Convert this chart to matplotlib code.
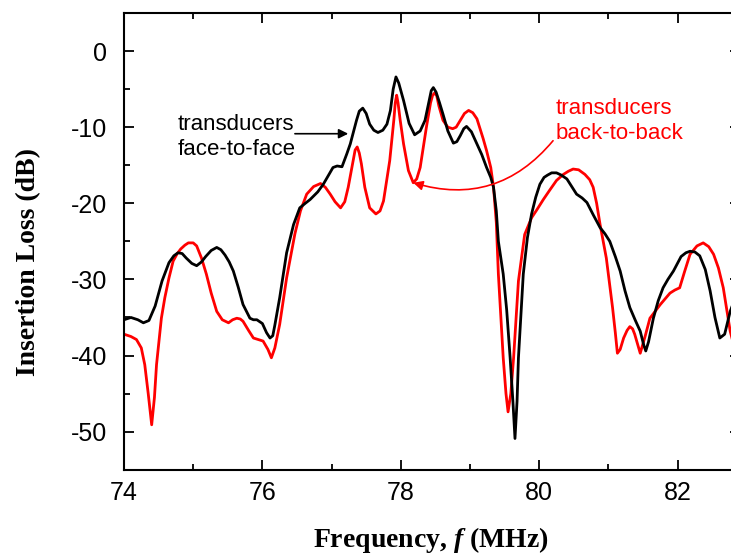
import matplotlib
matplotlib.use('Agg')
import matplotlib.pyplot as plt
from matplotlib.ticker import MultipleLocator

plt.rcParams['font.family'] = ['Liberation Sans', 'DejaVu Sans']
plt.rcParams['axes.unicode_minus'] = False
plt.rcParams['mathtext.fontset'] = 'custom'
plt.rcParams['mathtext.it'] = 'Liberation Serif:italic:bold'
plt.rcParams['mathtext.rm'] = 'Liberation Serif:bold'

# face-to-face measurement (black)
f2f_freq = [74.00, 74.10, 74.20, 74.28, 74.36, 74.45, 74.55, 74.65, 74.72, 74.78,
            74.84, 74.90, 74.98, 75.05, 75.12, 75.18, 75.26, 75.34, 75.40, 75.46,
            75.52, 75.58, 75.65, 75.72, 75.82, 75.87, 75.92, 76.00, 76.06, 76.11,
            76.15, 76.18, 76.25, 76.35, 76.45, 76.54, 76.62, 76.69, 76.80, 76.88,
            76.95, 77.02, 77.08, 77.15, 77.22, 77.27, 77.32, 77.36, 77.40, 77.45,
            77.50, 77.55, 77.61, 77.67, 77.74, 77.80, 77.85, 77.89, 77.93, 77.97,
            78.04, 78.12, 78.20, 78.28, 78.35, 78.41, 78.44, 78.47, 78.51, 78.56,
            78.61, 78.68, 78.76, 78.81, 78.86, 78.91, 78.95, 79.02, 79.10, 79.17,
            79.24, 79.30, 79.34, 79.38, 79.41, 79.48, 79.53, 79.58, 79.62, 79.65,
            79.68, 79.70, 79.74, 79.77, 79.83, 79.89, 79.95, 80.01, 80.07, 80.12,
            80.18, 80.25, 80.32, 80.40, 80.47, 80.54, 80.62, 80.69, 80.78, 80.88,
            80.95, 81.02, 81.10, 81.17, 81.24, 81.31, 81.39, 81.46, 81.51, 81.54,
            81.58, 81.65, 81.72, 81.79, 81.86, 81.94, 82.05, 82.12, 82.18, 82.25,
            82.32, 82.40, 82.47, 82.54, 82.61, 82.68, 82.76, 82.85]
f2f_loss = [-35.3, -35.0, -35.3, -35.7, -35.4, -33.5, -30.2, -27.8, -26.9, -26.5,
            -26.6, -27.2, -27.9, -28.2, -27.7, -27.0, -26.2, -25.8, -26.1, -26.8,
            -27.7, -28.9, -31.0, -33.3, -35.1, -35.3, -35.3, -35.8, -37.0, -37.7,
            -37.4, -36.0, -32.4, -26.5, -22.8, -20.6, -20.0, -19.5, -18.5, -17.5,
            -16.4, -15.3, -15.1, -15.2, -13.5, -12.2, -10.5, -9.1, -7.9, -7.5,
            -8.2, -9.6, -10.4, -10.7, -10.4, -9.6, -7.8, -5.0, -3.4, -4.2,
            -6.5, -9.5, -11.0, -10.5, -9.1, -6.5, -5.2, -4.8, -5.4, -6.8,
            -8.3, -10.5, -12.1, -11.9, -11.1, -10.2, -9.9, -10.6, -12.2, -13.6,
            -15.3, -16.6, -17.9, -21.0, -25.0, -29.3, -34.0, -40.3, -46.0, -50.9,
            -46.0, -40.3, -34.0, -29.3, -24.5, -21.4, -19.2, -17.5, -16.6, -16.3,
            -16.0, -16.0, -16.3, -16.8, -17.8, -18.8, -19.3, -19.9, -21.5, -23.2,
            -24.0, -25.0, -27.0, -28.9, -31.5, -33.7, -35.4, -36.8, -38.6, -39.4,
            -38.2, -35.1, -32.8, -31.1, -30.0, -28.9, -27.0, -26.5, -26.3, -26.4,
            -26.9, -28.7, -31.5, -35.0, -37.7, -37.2, -34.2, -32.0]

# back-to-back measurement (red)
b2b_freq = [74.00, 74.10, 74.18, 74.25, 74.30, 74.35, 74.40, 74.44, 74.47, 74.54,
            74.59, 74.65, 74.71, 74.77, 74.82, 74.88, 74.93, 75.00, 75.05, 75.12,
            75.19, 75.26, 75.34, 75.42, 75.51, 75.57, 75.63, 75.68, 75.72, 75.80,
            75.87, 75.94, 76.01, 76.08, 76.13, 76.18, 76.25, 76.35, 76.47, 76.55,
            76.64, 76.74, 76.84, 76.91, 76.98, 77.05, 77.13, 77.19, 77.24, 77.31,
            77.34, 77.37, 77.40, 77.43, 77.48, 77.55, 77.64, 77.70, 77.75, 77.84,
            77.90, 77.92, 77.94, 77.96, 77.99, 78.04, 78.11, 78.18, 78.23, 78.28,
            78.37, 78.43, 78.46, 78.49, 78.52, 78.55, 78.61, 78.68, 78.75, 78.80,
            78.86, 78.92, 78.98, 79.04, 79.10, 79.19, 79.24, 79.30, 79.34, 79.38,
            79.41, 79.48, 79.52, 79.55, 79.59, 79.63, 79.70, 79.79, 79.89, 79.97,
            80.06, 80.15, 80.25, 80.35, 80.42, 80.49, 80.57, 80.66, 80.73, 80.78,
            80.83, 80.88, 80.97, 81.06, 81.10, 81.13, 81.17, 81.22, 81.27, 81.31,
            81.35, 81.38, 81.46, 81.53, 81.60, 81.75, 81.89, 81.96, 82.03, 82.10,
            82.18, 82.28, 82.37, 82.45, 82.52, 82.59, 82.66, 82.76, 82.85]
b2b_loss = [-37.2, -37.5, -37.9, -39.0, -41.2, -45.0, -49.1, -45.5, -41.2, -35.1,
            -32.4, -29.8, -27.6, -26.6, -26.0, -25.5, -25.2, -25.2, -25.6, -27.2,
            -29.3, -31.8, -34.2, -35.3, -35.7, -35.3, -35.1, -35.2, -35.5, -36.7,
            -37.7, -37.9, -38.1, -39.2, -40.3, -39.0, -35.9, -29.8, -24.0, -21.0,
            -18.8, -17.8, -17.4, -17.9, -18.8, -19.8, -20.6, -19.8, -17.9, -14.5,
            -13.0, -12.6, -13.4, -14.8, -17.9, -20.6, -21.4, -21.0, -19.7, -14.4,
            -9.0, -6.8, -5.8, -6.8, -9.0, -12.2, -15.7, -17.3, -16.8, -15.3,
            -10.0, -6.8, -5.8, -5.5, -5.9, -7.2, -9.1, -10.0, -10.2, -10.0,
            -9.1, -8.2, -7.8, -8.1, -8.9, -11.5, -13.1, -15.3, -17.9, -22.5,
            -29.3, -40.3, -45.0, -47.4, -45.0, -40.3, -30.2, -24.1, -21.9, -20.8,
            -19.5, -18.3, -17.0, -16.2, -15.8, -15.5, -15.6, -16.2, -16.9, -17.9,
            -20.0, -22.8, -27.2, -33.7, -37.0, -39.7, -39.2, -37.7, -36.7, -36.2,
            -36.5, -37.2, -39.7, -37.5, -35.1, -33.3, -31.8, -31.4, -31.1, -29.0,
            -26.7, -25.6, -25.2, -25.7, -26.7, -28.5, -31.1, -36.8, -40.0]

fig = plt.figure(figsize=(7.31, 5.54), dpi=100)
# axes run past the right edge of the figure, as in the original crop
ax = fig.add_axes([124 / 731, 84.3 / 554, 8.9 * 69.2 / 731, 456.7 / 554])

ax.plot(b2b_freq, b2b_loss, color='#ff0000', lw=2.0, solid_joinstyle='round')
ax.plot(f2f_freq, f2f_loss, color='black', lw=2.0, solid_joinstyle='round')

ax.set_xlim(74, 82.9)
ax.set_ylim(-55, 5)
ax.xaxis.set_major_locator(MultipleLocator(2))
ax.xaxis.set_minor_locator(MultipleLocator(1))
ax.yaxis.set_major_locator(MultipleLocator(10))
ax.yaxis.set_minor_locator(MultipleLocator(5))
ax.tick_params(which='both', direction='in', top=True, right=True, width=1.3)
ax.tick_params(which='major', length=7, labelsize=18)
ax.tick_params(which='minor', length=4)
ax.tick_params(axis='x', pad=8)
ax.tick_params(axis='y', pad=12)
for sp in ax.spines.values():
    sp.set_linewidth(1.5)

ax.set_xlabel('Frequency, $f$ (MHz)', family='Liberation Serif',
              fontweight='bold', fontsize=20)
ax.xaxis.set_label_coords((431 - 124) / (8.9 * 69.2), -0.12)
ax.set_ylabel('Insertion Loss (dB)', family='Liberation Serif',
              fontweight='bold', fontsize=20)
ax.yaxis.set_label_coords(-0.135, 0.455)

ax.text(74.77, -11.25, 'transducers\nface-to-face', fontsize=16,
        ha='left', va='center', linespacing=1.25)
ax.annotate('', xy=(77.24, -10.86), xytext=(76.47, -10.86),
            arrowprops=dict(arrowstyle='-|>', color='black', lw=1.2,
                            mutation_scale=14, shrinkA=0, shrinkB=0))

ax.text(80.24, -9.14, 'transducers\nback-to-back', fontsize=16, color='#ff0000',
        ha='left', va='center', linespacing=1.25)
ax.annotate('', xy=(78.18, -17.3), xytext=(80.2, -11.78),
            arrowprops=dict(arrowstyle='-|>', color='#ff0000', lw=1.2,
                            mutation_scale=14, shrinkA=0, shrinkB=0,
                            connectionstyle='arc3,rad=-0.33'))

fig.savefig('out.png', dpi=100)
